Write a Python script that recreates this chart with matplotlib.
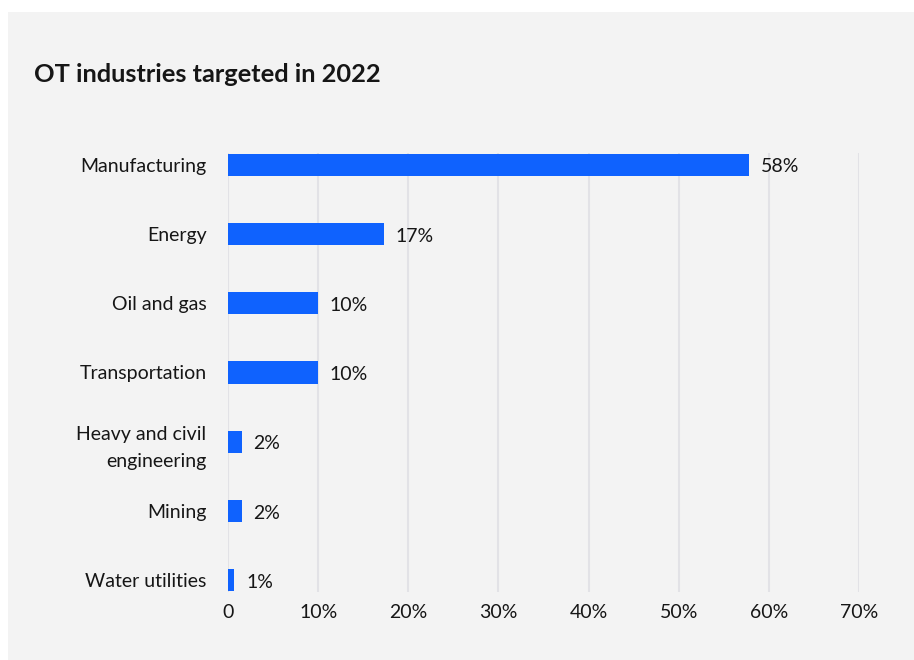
"""OT industries targeted in 2022 - horizontal bar chart."""
import matplotlib
matplotlib.use("Agg")
import matplotlib.pyplot as plt
from matplotlib.patches import Rectangle
from matplotlib.ticker import FuncFormatter

industries = [
    "Manufacturing",
    "Energy",
    "Oil and gas",
    "Transportation",
    "Heavy and civil\nengineering",
    "Mining",
    "Water utilities",
]
shares = [57.8, 17.3, 10.0, 10.0, 1.5, 1.5, 0.7]
share_labels = ["58%", "17%", "10%", "10%", "2%", "2%", "1%"]
x_ticks = [0, 10, 20, 30, 40, 50, 60, 70]

_BAR_COLOR = "#0f62fe"
_TEXT_COLOR = "#161616"
_PANEL_COLOR = "#f3f3f3"
_GRID_COLOR = "#e2e2e6"

plt.rcParams["font.family"] = ["Lato", "DejaVu Sans"]

W, H = 914, 660
fig = plt.figure(figsize=(W / 100, H / 100), dpi=100, facecolor="white")

# grey card behind everything (its own axes, drawn first)
bg = fig.add_axes([0, 0, 1, 1], zorder=-1)
bg.set_axis_off()
bg.add_patch(Rectangle((8 / W, 0), 1, 1 - 12 / H, transform=bg.transAxes,
                       facecolor=_PANEL_COLOR, edgecolor="none"))

# axes: x 0..70 spans px 228..859, rows span px 153..592
ax = fig.add_axes([228 / W, 1 - 592 / H, (859 - 228) / W, (592 - 153) / H])
ax.set_facecolor("none")

y = list(range(len(industries)))
ax.barh(y, shares, height=0.32, color=_BAR_COLOR, zorder=3)

for yi, val, lab in zip(y, shares, share_labels):
    ax.text(val + 1.3, yi + 0.03, lab, va="center", ha="left",
            fontsize=14, color=_TEXT_COLOR)

ax.set_xlim(0, 70)
ax.set_ylim(6.17, -0.17)
ax.set_xticks(x_ticks)
ax.xaxis.set_major_formatter(FuncFormatter(lambda v, _: "0" if v == 0 else f"{v:.0f}%"))
ax.set_yticks(y)
ax.set_yticklabels(industries, linespacing=1.7)

ax.grid(axis="x", color=_GRID_COLOR, linewidth=1.5, zorder=0)
ax.tick_params(axis="x", length=0, pad=9, labelsize=14, colors=_TEXT_COLOR)
ax.tick_params(axis="y", length=0, pad=15.5, labelsize=14, colors=_TEXT_COLOR)
for s in ax.spines.values():
    s.set_visible(False)

fig.text(34 / W, 1 - 75 / H, "OT industries targeted in 2022", ha="left", va="center",
         fontsize=18.3, fontweight="bold", color=_TEXT_COLOR)

fig.savefig("out.png", dpi=100, facecolor="white")
plt.close(fig)
